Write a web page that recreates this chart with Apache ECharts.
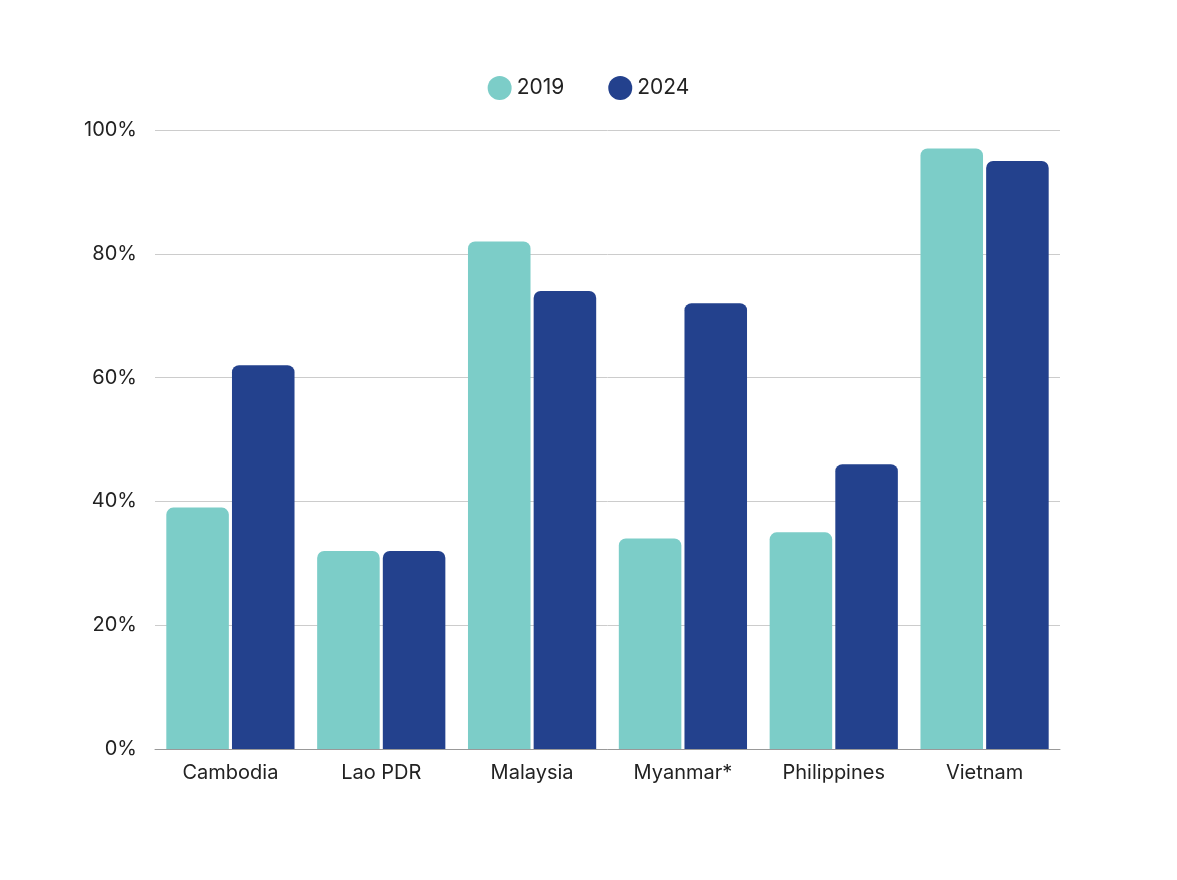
<!DOCTYPE html>
<html><head><meta charset="utf-8">
<script src="https://cdn.jsdelivr.net/npm/echarts@6/dist/echarts.min.js"></script>
<style>html,body{margin:0;background:#fff}#main{width:1177px;height:880px}</style>
</head><body><div id="main"></div>
<script>
var categories = ['Cambodia', 'Lao PDR', 'Malaysia', 'Myanmar*', 'Philippines', 'Vietnam'];
var values2019 = [39, 32, 82, 34, 35, 97];
var values2024 = [62, 32, 74, 72, 46, 95];

var chart = echarts.init(document.getElementById('main'));
var font = 'Inter';
chart.setOption({
  animation: false,
  textStyle: { fontFamily: font },
  legend: {
    top: 71, left: 'center', itemGap: 44,
    icon: 'circle', itemWidth: 24, itemHeight: 24,
    textStyle: { fontSize: 21, color: '#222', fontFamily: font },
    data: ['2019', '2024']
  },
  grid: { left: 155, right: 117, top: 130, bottom: 131 },
  xAxis: {
    type: 'category', data: categories,
    axisTick: { show: false },
    axisLine: { lineStyle: { color: '#999' } },
    axisLabel: { fontSize: 20, color: '#222', margin: 14 }
  },
  yAxis: {
    type: 'value', min: 0, max: 100, interval: 20,
    axisLabel: { formatter: '{value}%', fontSize: 20, color: '#222', margin: 18 },
    splitLine: { lineStyle: { color: '#ccc' } }
  },
  series: [
    { name: '2019', type: 'bar', data: values2019, barGap: '5%', barCategoryGap: '15%',
      itemStyle: { color: '#7ccdc8', borderRadius: [7, 7, 0, 0] } },
    { name: '2024', type: 'bar', data: values2024,
      itemStyle: { color: '#23418d', borderRadius: [7, 7, 0, 0] } }
  ]
});
</script></body></html>
